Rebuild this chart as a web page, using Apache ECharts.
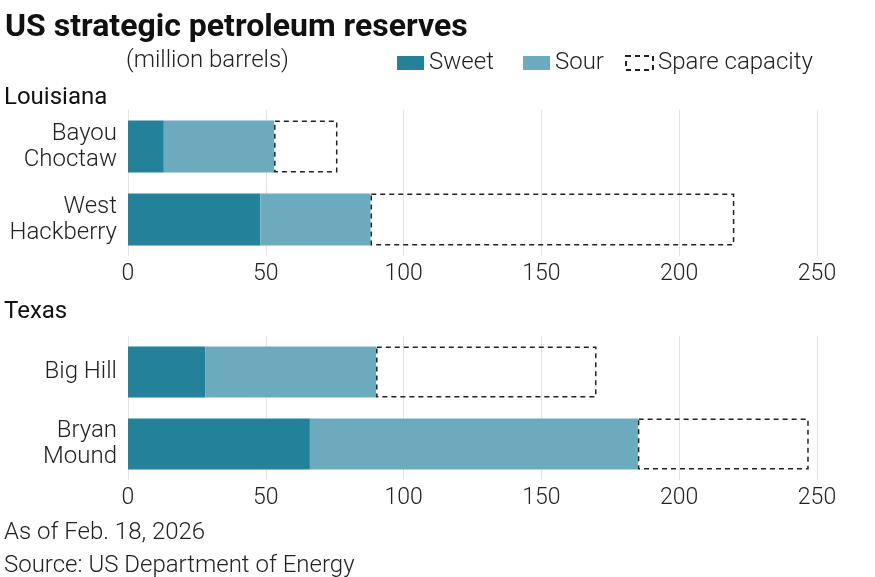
<!DOCTYPE html>
<html><head><meta charset="utf-8">
<script src="https://cdn.jsdelivr.net/npm/echarts@6/dist/echarts.min.js"></script>
<style>html,body{margin:0;padding:0;background:#fff}#c{width:875px;height:577px}</style>
</head><body><div id="c"></div>
<script>
const laSites = ['Bayou\nChoctaw', 'West\nHackberry'];
const laSweet = [13, 48];
const laSour = [40, 40];
const laSpare = [23, 132];
const txSites = ['Big Hill', 'Bryan\nMound'];
const txSweet = [28, 66];
const txSour = [62, 119];
const txSpare = [80, 62];
const xTicks = [0, 50, 100, 150, 200, 250];

const FONT = 'Roboto';
const C_SWEET = '#23819a';
const C_SOUR = '#6cabbd';
const spareStyle = {color: 'rgba(0,0,0,0)', borderColor: '#222', borderWidth: 1.5, borderType: [5, 4]};

function xAxis(gi) {
  return {gridIndex: gi, type: 'value', min: xTicks[0], max: xTicks[xTicks.length-1], interval: 50,
    axisLine: {show: false}, axisTick: {show: false},
    splitLine: {show: true, lineStyle: {color: '#e3e3e3', width: 1}},
    axisLabel: {fontFamily: FONT, fontSize: 23, fontWeight: 300, color: '#222', margin: 7}};
}
function yAxis(gi, cats) {
  return {gridIndex: gi, type: 'category', data: cats, inverse: true,
    axisLine: {show: false}, axisTick: {show: false},
    axisLabel: {fontFamily: FONT, fontSize: 24, fontWeight: 300, color: '#222', lineHeight: 26, margin: 11, align: 'right'}};
}
function series(gi, sw, so, sp) {
  const common = {type: 'bar', stack: 's' + gi, xAxisIndex: gi, yAxisIndex: gi, barCategoryGap: '29%', silent: true};
  return [
    Object.assign({name: 'Sweet', data: sw, itemStyle: {color: C_SWEET}}, common),
    Object.assign({name: 'Sour', data: so, itemStyle: {color: C_SOUR}}, common),
    Object.assign({name: 'Spare capacity', data: sp, itemStyle: spareStyle}, common)
  ];
}
function txt(text, left, top, size, weight, color) {
  return {text: text, left: left, top: top, padding: 0,
    textStyle: {fontFamily: FONT, fontSize: size, fontWeight: weight, color: color}};
}
function leg(name, left, style) {
  return {left: left, top: 51, padding: 0, itemWidth: 27, itemHeight: 14, itemGap: 0, icon: 'rect',
    selectedMode: false,
    textStyle: {fontFamily: FONT, fontSize: 24, fontWeight: 300, color: '#222', padding: [0, 0, 0, 0]},
    data: [Object.assign({name: name}, {itemStyle: style})]};
}

const chart = echarts.init(document.getElementById('c'), null, {renderer: 'canvas'});
chart.setOption({
  animation: false,
  backgroundColor: '#fff',
  textStyle: {fontFamily: FONT},
  title: [
    txt('US strategic petroleum reserves', 5, 12, 32, 'bold', '#111'),
    txt('(million barrels)', 126, 49, 24, 300, '#222'),
    txt('Louisiana', 4, 86, 24, 'normal', '#111'),
    txt('Texas', 4, 300, 24, 'normal', '#111'),
    txt('As of Feb. 18, 2026', 4, 521, 24, 300, '#222'),
    txt('Source: US Department of Energy', 4, 554, 24, 300, '#222')
  ],
  legend: [
    leg('Sweet', 397, {color: C_SWEET}),
    leg('Sour', 523, {color: C_SOUR}),
    leg('Spare capacity', 625, {color: 'rgba(0,0,0,0)', borderColor: '#222', borderWidth: 2, borderType: [5, 4]})
  ],
  grid: [
    {left: 128, right: 58, top: 110, height: 146},
    {left: 128, right: 58, top: 336, height: 144}
  ],
  xAxis: [xAxis(0), xAxis(1)],
  yAxis: [yAxis(0, laSites), yAxis(1, txSites)],
  series: [].concat(series(0, laSweet, laSour, laSpare), series(1, txSweet, txSour, txSpare))
});
</script>
</body></html>
